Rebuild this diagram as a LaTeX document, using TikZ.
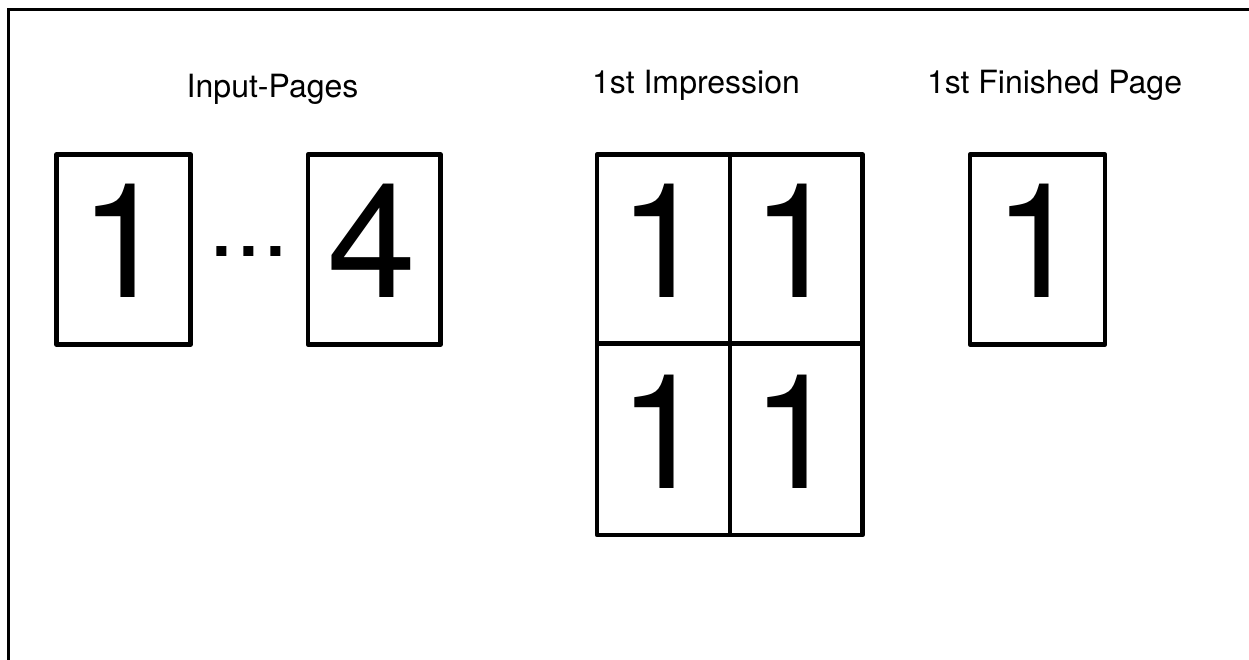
\documentclass[tikz,border=0pt]{standalone}
\usepackage{fontspec}
\setmainfont{TeX Gyre Heros}
\begin{document}
\begin{tikzpicture}[x=1pt,y=-1pt,
  pagebox/.style={draw, line width=4.5pt, line join=round, inner sep=0pt, outer sep=0pt},
  digit/.style={font=\fontsize{160}{160}\selectfont, anchor=base, inner sep=0pt},
  title/.style={font=\fontsize{32}{32}\selectfont, anchor=base, inner sep=0pt}]
\useasboundingbox (0,0) rectangle (1249,659);
% outer frame (cropped at right and bottom)
\coordinate (frTR) at (1252,9.5);
\coordinate (frBL) at (8.7,662);
\draw[line width=2.8pt] (frTR) -| (frBL);
% titles
\node[title] (tin) at (272.5,97) {Input-Pages};
\node[title] (timp) at (696,93) {1st Impression};
\node[title] (tfin) at (1054.5,93) {1st Finished Page};
% input pages
\node[pagebox, minimum width=134pt, minimum height=190pt] (in1) at (123.5,249.5) {};
\node[digit] (d1) at (123.5,297) {1};
\node[font=\fontsize{96}{96}\selectfont, anchor=base, inner sep=0pt] (dots) at (249,256.7) {...};
\node[pagebox, minimum width=132.5pt, minimum height=190pt] (in4) at (374.25,249.5) {};
\node[digit] (d4) at (372,297) {4};
% impression grid
\node[pagebox, minimum width=133pt, minimum height=189pt] (c11) at (663.5,249) {};
\node[pagebox, minimum width=132.5pt, minimum height=189pt] (c12) at (796.25,249) {};
\node[pagebox, minimum width=133pt, minimum height=191.5pt] (c21) at (663.5,439.25) {};
\node[pagebox, minimum width=132.5pt, minimum height=191.5pt] (c22) at (796.25,439.25) {};
\node[digit] (g11) at (662.5,297) {1};
\node[digit] (g12) at (796,297) {1};
\node[digit] (g21) at (662.5,488) {1};
\node[digit] (g22) at (796,488) {1};
% finished page
\node[pagebox, minimum width=135pt, minimum height=190pt] (fin) at (1037.5,249.5) {};
\node[digit] (df) at (1037.5,297) {1};
\end{tikzpicture}
\end{document}
